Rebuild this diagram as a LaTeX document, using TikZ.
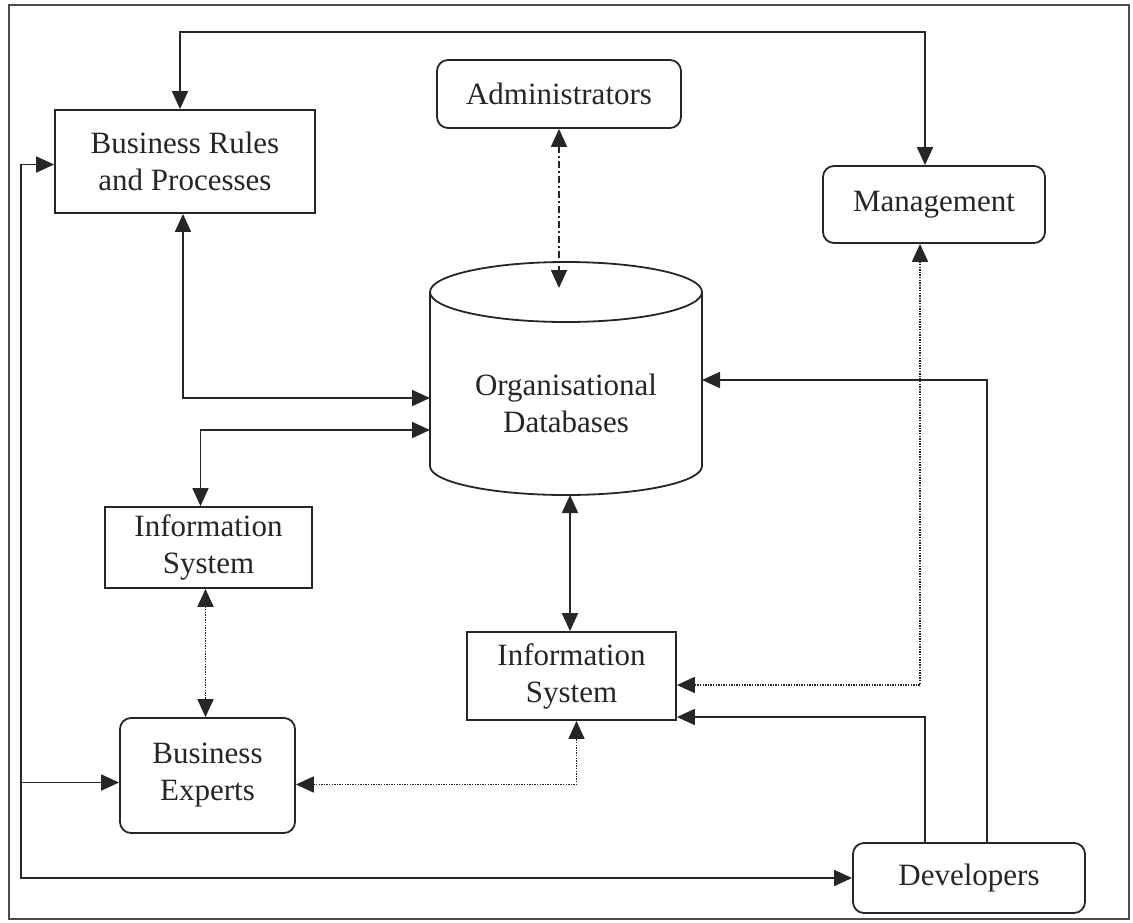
\documentclass[tikz,border=0pt]{standalone}
\usepackage{fontspec}
\setmainfont{Liberation Serif}
\usetikzlibrary{arrows.meta}
\begin{document}
\begin{tikzpicture}[x=1pt,y=-1pt,
  line width=1.8pt, draw=black!85,
  lbl/.style={font=\fontsize{31}{37}\selectfont, align=center, text=black!85},
  sqbox/.style={lbl, draw, rectangle, inner sep=0pt},
  rbox/.style={lbl, draw, rectangle, rounded corners=11pt, inner sep=0pt},
  tri/.tip={Triangle[length=18pt,width=16pt]},
  dotline/.style={dash pattern=on 1.4pt off 1.2pt},
  dashdotline/.style={dash pattern=on 7pt off 3pt on 2pt off 3pt}]
\useasboundingbox (0,0) rectangle (1133,922);
% page frame
\draw[line width=1.2pt, black!70] (9,5) rectangle (1129,919);

% boxes
\node[sqbox, minimum width=260pt, minimum height=103pt] (br)  at (185,161.5) {Business Rules\\and Processes};
\node[rbox,  minimum width=244pt, minimum height=68pt]  (adm) at (559,94) {Administrators};
\node[rbox,  minimum width=222pt, minimum height=77pt]  (mg)  at (934,204.5) {Management};
\node[sqbox, minimum width=207pt, minimum height=81pt]  (is1) at (208.5,547.5) {Information\\System};
\node[sqbox, minimum width=209pt, minimum height=88pt]  (is2) at (571.5,676) {Information\\System};
\node[rbox,  minimum width=175pt, minimum height=115pt] (be)  at (207.5,775.5) {Business\\Experts};
\node[rbox,  minimum width=232pt, minimum height=70pt]  (dev) at (969,878) {Developers};

% database cylinder
\draw (430,292) arc[start angle=180, end angle=-180, x radius=136, y radius=30]
      (430,292) -- (430,466) arc[start angle=180, end angle=0, x radius=136, y radius=29]
      -- (702,292);
\node[lbl, minimum width=272pt, minimum height=233pt] (db) at (566,378.5) {};
\node[lbl] (dbtext) at (566,403) {Organisational\\Databases};
\coordinate (dbT)  at (560,288);
\coordinate (dbL1) at (430,398);
\coordinate (dbL2) at (430,430);
\coordinate (dbR)  at (702,380);
\coordinate (dbB)  at (570,495);
\coordinate (top)  at (560,32);
\coordinate (lp)   at (21,878);
\coordinate (beIn) at ([yshift=-7pt]be.west);

% connectors
\draw[tri-tri] ([xshift=-5pt]br.north) |- (top) -| ([xshift=-9pt]mg.north);
\draw[tri-tri, dashdotline] (adm.south) -- (adm.south |- dbT);
\draw[tri-tri] ([xshift=-2pt]br.south) |- (dbL1);
\draw[tri-tri] (dbL2) -| ([xshift=-8pt]is1.north);
\draw[tri-tri, dotline] ([xshift=-3pt]is1.south) -- ([xshift=-3pt]is1.south |- be.north);
\draw[tri-tri] (dbB) -- (dbB |- is2.north);
\draw[tri-tri, dotline] ([xshift=-14pt]mg.south) |- ([yshift=-9pt]is2.east);
\draw[-tri] ([xshift=-44pt]dev.north) |- ([yshift=-41pt]is2.east);
\draw[-tri] ([xshift=18pt]dev.north) |- (dbR);
\draw[tri-tri, dotline] ([yshift=-9pt]be.east) -| ([xshift=5pt]is2.south);
\draw[tri-tri] ([yshift=-3pt]br.west) -| (lp) -- (dev.west);
\draw[-tri] (lp |- beIn) -- (beIn);
\end{tikzpicture}
\end{document}
